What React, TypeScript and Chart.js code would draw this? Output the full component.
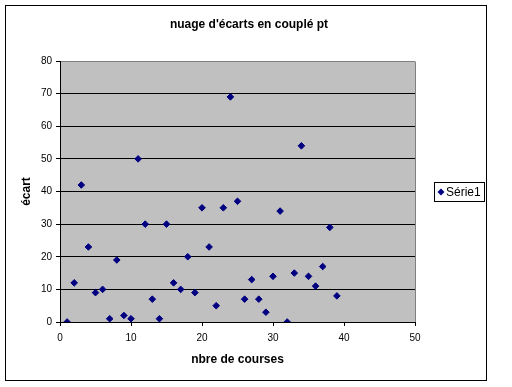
import { useEffect, useRef } from 'react';
import { Chart, registerables } from 'chart.js';

Chart.register(...registerables);

const courses = [1, 2, 3, 4, 5, 6, 7, 8, 9, 10, 11, 12, 13, 14, 15, 16, 17, 18, 19, 20, 21, 22, 23, 24, 25, 26, 27, 28, 29, 30, 31, 32, 33, 34, 35, 36, 37, 38, 39];
const ecarts = [0, 12, 42, 23, 9, 10, 1, 19, 2, 1, 50, 30, 7, 1, 30, 12, 10, 20, 9, 35, 23, 5, 35, 69, 37, 7, 13, 7, 3, 14, 34, 0, 15, 54, 14, 11, 17, 29, 8];

const seriesLabel = 'Série1';
const chartTitle = "nuage d'écarts en couplé pt";
const xTitle = 'nbre de courses';
const yTitle = 'écart';
const xMin = 0;
const xMax = 50;
const xStep = 10;
const yMin = 0;
const yMax = 80;
const yStep = 10;

const FONT = "'Liberation Sans', Arial, sans-serif";
const NAVY = '#000080';

const excelDecor = {
  id: 'excelDecor',
  beforeDraw(chart: any) {
    const { ctx, chartArea: a } = chart;
    ctx.save();
    ctx.fillStyle = '#ffffff';
    ctx.fillRect(0, 0, chart.width, chart.height);
    ctx.fillStyle = '#C0C0C0';
    ctx.fillRect(a.left, a.top, a.right - a.left, a.bottom - a.top);
    ctx.restore();
  },
  beforeDatasetsDraw(chart: any) {
    const { ctx, chartArea: a } = chart;
    ctx.save();
    ctx.strokeStyle = '#808080';
    ctx.lineWidth = 1;
    const x = Math.round(a.right) + 0.5;
    ctx.beginPath();
    ctx.moveTo(x, Math.round(a.top) + 0.5);
    ctx.lineTo(x, Math.round(a.bottom));
    ctx.stroke();
    ctx.restore();
  },
  afterDraw(chart: any) {
    const { ctx } = chart;
    ctx.save();
    // outer chart frame
    ctx.strokeStyle = '#000000';
    ctx.lineWidth = 1;
    ctx.strokeRect(5.5, 5.5, 481, 375);
    // legend box
    const lx = 434.5, ly = 182.5, lw = 50, lh = 19;
    ctx.fillStyle = '#ffffff';
    ctx.fillRect(lx, ly, lw, lh);
    ctx.strokeRect(lx, ly, lw, lh);
    const cy = ly + lh / 2;
    const dx = 441;
    const r = 3.5;
    ctx.fillStyle = NAVY;
    ctx.beginPath();
    ctx.moveTo(dx, cy - r);
    ctx.lineTo(dx + r, cy);
    ctx.lineTo(dx, cy + r);
    ctx.lineTo(dx - r, cy);
    ctx.closePath();
    ctx.fill();
    ctx.fillStyle = '#000000';
    ctx.font = `12px ${FONT}`;
    ctx.textBaseline = 'middle';
    ctx.textAlign = 'left';
    ctx.fillText(chart.data.datasets[0].label, 446, cy + 0.5);
    ctx.restore();
  },
};

export default function App() {
  const ref = useRef<HTMLCanvasElement | null>(null);

  useEffect(() => {
    if (!ref.current) return;
    const points = courses.map((x, i) => ({ x, y: ecarts[i] }));
    const chart = new Chart(ref.current, {
      type: 'scatter',
      data: {
        datasets: [
          {
            label: seriesLabel,
            data: points,
            pointStyle: 'rectRot',
            pointRadius: 3.3,
            pointHoverRadius: 3.3,
            backgroundColor: NAVY,
            borderColor: NAVY,
            borderWidth: 1,
            showLine: false,
          },
        ],
      },
      options: {
        responsive: false,
        animation: false,
        events: [],
        layout: { padding: { left: 0, top: 0, right: 14, bottom: 0 } },
        plugins: {
          legend: { display: false },
          tooltip: { enabled: false },
          title: {
            display: true,
            text: chartTitle,
            color: '#000',
            font: { family: FONT, size: 12, weight: 'bold' },
            padding: { top: 17, bottom: 29.6 },
          },
        },
        scales: {
          x: {
            type: 'linear',
            position: 'bottom',
            min: xMin,
            max: xMax,
            ticks: { stepSize: xStep, color: '#000', font: { family: FONT, size: 10 }, padding: 6, maxRotation: 0 },
            grid: { drawOnChartArea: false, drawTicks: true, tickLength: 4, tickColor: '#000' },
            border: { display: true, color: '#000' },
            title: {
              display: true,
              text: xTitle,
              color: '#000',
              font: { family: FONT, size: 12, weight: 'bold' },
              padding: { top: 0, bottom: 20 },
            },
            afterFit: (s: any) => {
              s.height = 65;
            },
          },
          y: {
            type: 'linear',
            position: 'left',
            min: yMin,
            max: yMax,
            ticks: { stepSize: yStep, color: '#000', font: { family: FONT, size: 10 }, padding: 4 },
            grid: {
              color: (c: any) => (c.tick && c.tick.value === yMax ? '#808080' : '#000'),
              tickColor: '#000',
              tickLength: 4,
              drawTicks: true,
            },
            border: { display: true, color: '#000' },
            title: {
              display: true,
              text: yTitle,
              color: '#000',
              font: { family: FONT, size: 12, weight: 'bold' },
              padding: { top: 19, bottom: 0 },
            },
            afterFit: (s: any) => {
              s.width = 60;
            },
          },
          yr: {
            type: 'linear',
            position: 'right',
            display: true,
            ticks: { display: false },
            grid: { display: false, drawTicks: false },
            border: { display: false },
            afterFit: (s: any) => {
              s.width = 83;
            },
          },
        },
      },
      plugins: [excelDecor],
    } as any);
    return () => chart.destroy();
  }, []);

  return (
    <canvas
      ref={ref}
      width={512}
      height={387}
      style={{ position: 'absolute', left: 0, top: 0, display: 'block' }}
    />
  );
}
